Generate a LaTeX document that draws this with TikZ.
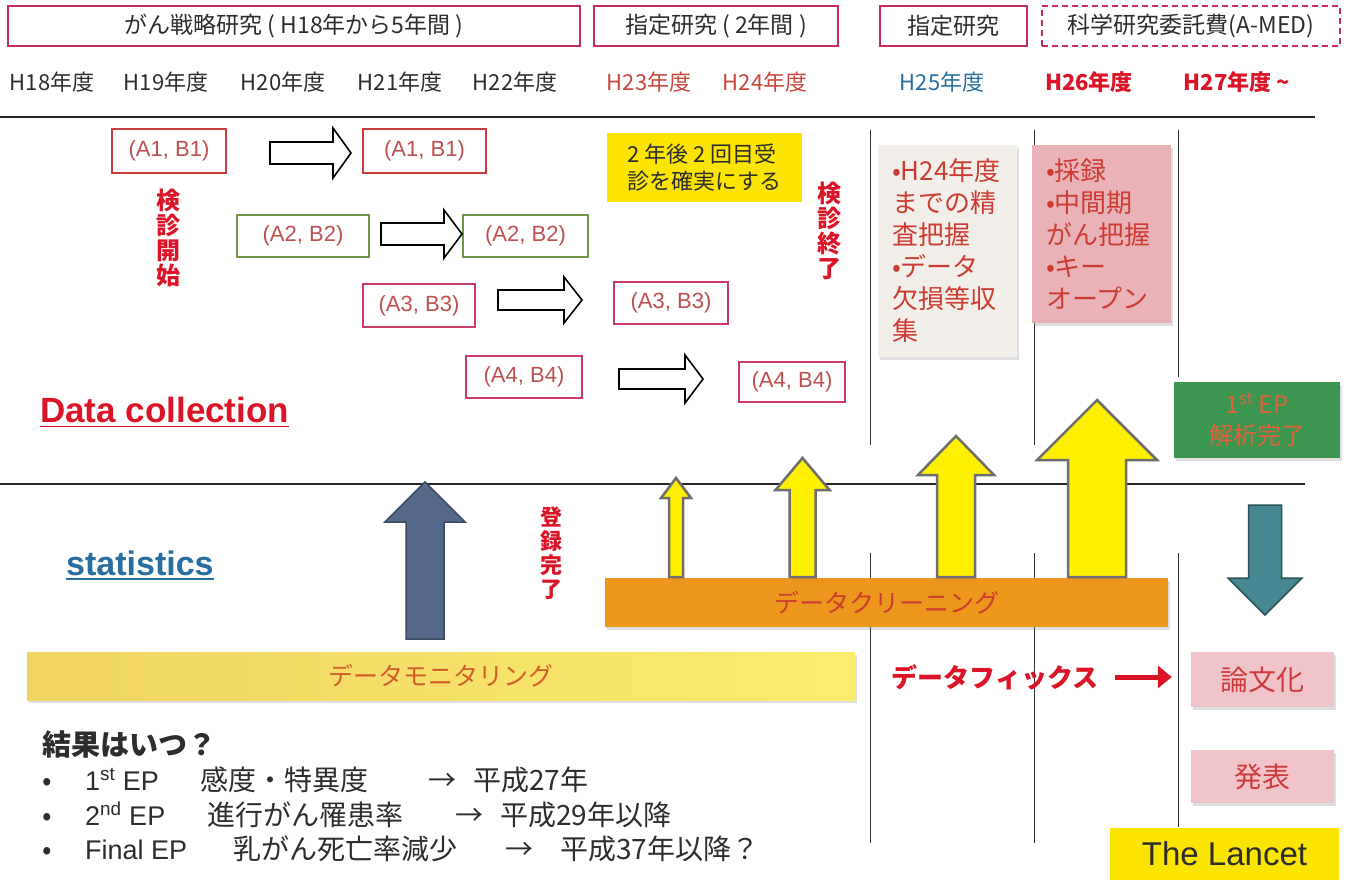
\documentclass[tikz,border=0pt]{standalone}
\usepackage{fontspec}
\setmainfont{Noto Sans CJK JP}
\newfontfamily\latf{Liberation Sans}
\usetikzlibrary{shadows,arrows.meta}
\definecolor{magbox}{RGB}{200,40,100}
\definecolor{yrred}{RGB}{200,70,60}
\definecolor{yrblue}{RGB}{40,110,160}
\definecolor{brred}{RGB}{220,20,40}
\definecolor{abtext}{RGB}{190,80,80}
\definecolor{abred}{RGB}{205,60,60}
\definecolor{abgreen}{RGB}{110,150,70}
\definecolor{abmag}{RGB}{200,60,100}
\definecolor{ylw}{RGB}{250,228,0}
\definecolor{arrylw}{RGB}{255,240,0}
\definecolor{arrgray}{RGB}{110,110,110}
\definecolor{slate}{RGB}{85,105,140}
\definecolor{tealc}{RGB}{70,135,145}
\definecolor{graybox}{RGB}{242,239,234}
\definecolor{pinkbox}{RGB}{232,178,182}
\definecolor{greenbox}{RGB}{60,150,80}
\definecolor{gtext}{RGB}{225,95,60}
\definecolor{boxtext}{RGB}{205,60,50}
\definecolor{monA}{RGB}{240,212,100}
\definecolor{monB}{RGB}{252,236,110}
\definecolor{montext}{RGB}{210,95,40}
\definecolor{cleanc}{RGB}{236,150,30}
\definecolor{pubbox}{RGB}{240,196,200}
\definecolor{darkt}{RGB}{45,45,45}
\newcommand\uparw[7]{%
  \draw[#7] ({#1-#4},#2) -- ({#1-#4},#6) -- ({#1-#5},#6) -- (#1,#3) -- ({#1+#5},#6) -- ({#1+#4},#6) -- ({#1+#4},#2) -- cycle;}
\newcommand\rtarw[6]{%
  \draw[hollowarr] (#1,{#3-#4}) -- ({#2-#6},{#3-#4}) -- ({#2-#6},{#3-#5}) -- (#2,#3) -- ({#2-#6},{#3+#5}) -- ({#2-#6},{#3+#4}) -- (#1,{#3+#4}) -- cycle;}
\begin{document}
\begin{tikzpicture}[x=1pt,y=-1pt,
  topbox/.style={draw=magbox, line width=2.2pt, minimum height=40pt, inner sep=0pt, text=darkt, font=\fontsize{23}{26}\selectfont},
  yr/.style={font=\fontsize{22}{26}\selectfont, text=darkt, inner sep=0pt},
  abox/.style={draw, line width=1.2pt, minimum height=43pt, inner sep=0pt, text=abtext, font=\latf\fontsize{22}{24}\selectfont},
  hollowarr/.style={draw=black, line width=1.6pt, fill=white, line join=miter},
  yarr/.style={fill=arrylw, draw=arrgray, line width=2.5pt, line join=miter},
  barr/.style={fill=slate, draw=slate!70!black, line width=1.5pt, line join=miter},
  tarr/.style={fill=tealc, draw=tealc!60!black, line width=1.5pt, line join=miter},
  vt/.style={text=brred, font=\bfseries\fontsize{24}{25}\selectfont, align=center, inner sep=0pt},
  shad/.style={drop shadow={shadow xshift=2pt, shadow yshift=-3pt, opacity=0.25}},
  sidebox/.style={shad, inner xsep=14pt, inner ysep=0pt, text width=111pt, align=left, text=boxtext, font=\fontsize{26}{32}\selectfont},
  bar/.style={shad, inner sep=0pt, minimum height=48pt, font=\fontsize{25}{28}\selectfont},
  pub/.style={shad, fill=pubbox, minimum width=143pt, inner sep=0pt, text=abred, font=\fontsize{28}{30}\selectfont},
  bl/.style={anchor=base west, inner sep=0pt, text=darkt, font=\fontsize{28}{30}\selectfont},
  bll/.style={bl, font=\latf\fontsize{27}{30}\selectfont},
  vline/.style={line width=0.9pt, black!80}
]
\useasboundingbox (0,0) rectangle (1354,880);
\fill[white] (0,0) rectangle (1354,880);

% horizontal rules
\draw[line width=1.6pt, black!85] (0,117) -- (1315,117);
\draw[line width=1.6pt, black!85] (0,484) -- (1305,484);
% vertical rules
\draw[vline] (870,130) -- (870,445);
\draw[vline] (870,553) -- (870,843);
\draw[vline] (1034,130) -- (1034,445);
\draw[vline] (1034,553) -- (1034,843);
\draw[vline] (1178,130) -- (1178,377);
\draw[vline] (1178,553) -- (1178,827);

% top boxes
\node[topbox, minimum width=572pt] (t1) at (294,26) {がん戦略研究 ( H18年から5年間 )};
\node[topbox, minimum width=244pt] (t2) at (716,26) {指定研究 ( 2年間 )};
\node[topbox, minimum width=147pt] (t3) at (953.5,26) {指定研究};
\node[topbox, minimum width=298pt, dashed, dash pattern=on 6pt off 4pt] (t4) at (1191,26) {科学研究委託費(A-MED)};

% years
\node[yr] (y18) at (52,82) {H18年度};
\node[yr] (y19) at (166,82) {H19年度};
\node[yr] (y20) at (283,82) {H20年度};
\node[yr] (y21) at (400,82) {H21年度};
\node[yr] (y22) at (515,82) {H22年度};
\node[yr, text=yrred] (y23) at (649,82) {H23年度};
\node[yr, text=yrred] (y24) at (765,82) {H24年度};
\node[yr, text=yrblue] (y25) at (942,82) {H25年度};
\node[yr, text=brred, font=\bfseries\fontsize{22}{26}\selectfont] (y26) at (1089,82) {H26年度};
\node[yr, text=brred, font=\bfseries\fontsize{22}{26}\selectfont] (y27) at (1237,82) {H27年度 \textasciitilde};

% A/B boxes
\node[abox, draw=abred, minimum width=114pt, minimum height=44pt] (a1l) at (169,151) {(A1, B1)};
\node[abox, draw=abred, minimum width=123pt, minimum height=44pt] (a1r) at (424.5,151) {(A1, B1)};
\node[abox, draw=abgreen, minimum width=132pt, minimum height=42pt] (a2l) at (303,236) {(A2, B2)};
\node[abox, draw=abgreen, minimum width=125pt, minimum height=42pt] (a2r) at (525.5,236) {(A2, B2)};
\node[abox, draw=abmag, minimum width=112pt] (a3l) at (419,305.5) {(A3, B3)};
\node[abox, draw=abmag, minimum width=114pt, minimum height=42pt] (a3r) at (671,303) {(A3, B3)};
\node[abox, draw=abmag, minimum width=116pt, minimum height=42pt] (a4l) at (524,377) {(A4, B4)};
\node[abox, draw=abmag, minimum width=106pt, minimum height=40pt] (a4r) at (792,382) {(A4, B4)};

% hollow arrows
\rtarw{270}{351}{153}{11}{25}{18}
\rtarw{381}{462}{234}{11}{24}{18}
\rtarw{498}{582}{300}{10}{23}{18}
\rtarw{619}{703}{379}{10}{24}{18}

% vertical labels
\node[vt] (kstart) at (168,238) {検\\診\\開\\始};
\node[vt] (kend) at (829,231) {検\\診\\終\\了};
\node[vt, font=\bfseries\fontsize{22}{24}\selectfont] (treg) at (551,553) {登\\録\\完\\了};

% yellow note
\node[fill=ylw, minimum width=195pt, minimum height=69pt, inner sep=0pt, align=left, text=darkt, font=\fontsize{22}{27}\selectfont] (note) at (704.5,167.5) {2 年後 2 回目受\\診を確実にする};

% side boxes
\node[sidebox, fill=graybox, minimum height=212pt] (h24box) at (947.5,251) {•H24年度\\までの精\\査把握\\•データ\\欠損等収\\集};
\node[sidebox, fill=pinkbox, minimum height=178pt] (h26box) at (1101.5,234) {•採録\\•中間期\\がん把握\\•キー\\オープン};
\node[shad, fill=greenbox, minimum width=166pt, minimum height=76pt, inner sep=0pt, align=center, text=gtext, font=\fontsize{24}{31}\selectfont] (ep1) at (1257,420) {1\textsuperscript{st} EP\\解析完了};

% section titles
\node[anchor=west, inner sep=0pt, text=brred, font=\latf\bfseries\fontsize{35}{38}\selectfont] (dc) at (40,410) {Data collection};
\draw[brred, line width=1.8pt] ([yshift=-4pt]dc.base west) -- ([yshift=-4pt]dc.base east);
\node[anchor=west, inner sep=0pt, text=yrblue, font=\latf\bfseries\fontsize{34}{37}\selectfont] (st) at (66,563) {statistics};
\draw[yrblue, line width=1.8pt] ([yshift=-4pt]st.base west) -- ([yshift=-4pt]st.base east);

% bars
\node[bar, left color=monA, right color=monB, minimum width=828pt, text=montext] (mon) at (441,676) {データモニタリング};
\node[bar, fill=cleanc, minimum width=563pt, minimum height=49pt, text=boxtext] (clean) at (886.5,602.5) {データクリーニング};

% up arrows
\uparw{425}{639}{482}{19}{40}{522}{barr}
\uparw{676}{577}{478}{7}{15}{498}{yarr}
\uparw{802.5}{577}{458}{13}{27}{490}{yarr}
\uparw{956}{577}{436}{19}{38}{475}{yarr}
\uparw{1097}{577}{400}{29}{60}{460}{yarr}
% down arrow
\uparw{1265}{505}{615}{16.5}{37}{578}{tarr}

% data fix
\node[inner sep=0pt, text=brred, font=\bfseries\fontsize{26}{28}\selectfont] (dfix) at (995,677) {データフィックス};
\node[pub, minimum height=55pt] (ronbun) at (1262.5,679.5) {論文化};
\node[pub, minimum height=53pt] (happyo) at (1262.5,776.5) {発表};
\draw[brred, line width=5pt, -{Triangle[length=14pt,width=22pt]}, shorten <=16pt, shorten >=19pt] (dfix.east) -- (dfix.east -| ronbun.west);
\node[fill=ylw, minimum width=229pt, minimum height=52pt, inner sep=0pt, text=darkt, font=\latf\fontsize{33}{35}\selectfont] (lancet) at (1224.5,854) {The Lancet};

% results text
\node[anchor=base west, inner sep=0pt, text=darkt, font=\bfseries\fontsize{29}{31}\selectfont] (kekka) at (42,755) {結果はいつ？};
\node[bl] (b1) at (42,790) {•};
\node[bll] (b1a) at (85,790) {1\textsuperscript{st} EP};
\node[bl] (b1b) at (200,790) {感度・特異度};
\node[bl] (b1c) at (428,790) {→};
\node[bl] (b1d) at (473,790) {平成27年};
\node[bl] (b2) at (42,825) {•};
\node[bll] (b2a) at (85,825) {2\textsuperscript{nd} EP};
\node[bl] (b2b) at (207,825) {進行がん罹患率};
\node[bl] (b2c) at (455,825) {→};
\node[bl] (b2d) at (500,825) {平成29年以降};
\node[bl] (b3) at (42,859) {•};
\node[bll] (b3a) at (85,859) {Final EP};
\node[bl] (b3b) at (233,859) {乳がん死亡率減少};
\node[bl] (b3c) at (505,859) {→};
\node[bl] (b3d) at (560,859) {平成37年以降？};
\end{tikzpicture}
\end{document}
